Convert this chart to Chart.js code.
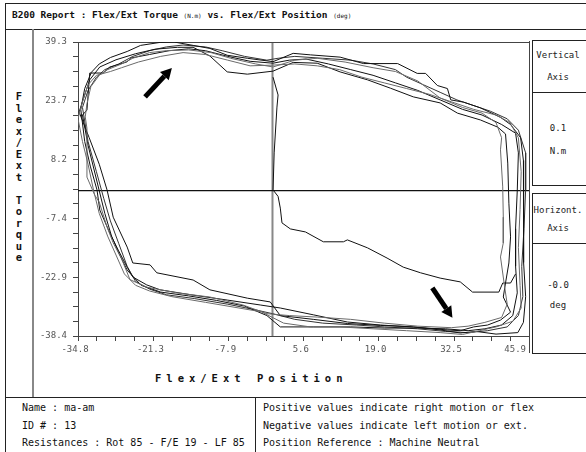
<!DOCTYPE html>
<html>
<head>
<meta charset="utf-8">
<script src="https://cdn.jsdelivr.net/npm/chart.js@4.4.1/dist/chart.umd.min.js"></script>
<style>
body{margin:0;background:#fff;width:586px;height:452px;overflow:hidden;position:relative;font-family:'DejaVu Sans Mono',monospace;color:#111}
.ln{position:absolute;background:#222}
.t{position:absolute;white-space:pre;line-height:1}
.box{position:absolute;border:1px solid #222;box-sizing:border-box}
.bx{position:absolute;left:532px;width:52px;text-align:center;font-size:9px;color:#222;white-space:pre;line-height:1}
#myChart{position:absolute;left:0;top:0}
</style>
</head>
<body>
<div class="ln" style="left:5px;top:3px;width:600px;height:1px"></div>
<div class="ln" style="left:5px;top:3px;width:1px;height:460px"></div>
<div class="ln" style="left:5px;top:29px;width:600px;height:1px"></div>
<div class="ln" style="left:32px;top:29px;width:2px;height:368px;background:#888"></div>
<div class="ln" style="left:5px;top:397px;width:600px;height:1px"></div>
<div class="ln" style="left:255px;top:397px;width:1px;height:60px"></div>
<div class="ln" style="left:529px;top:41px;width:1px;height:312px;background:#444"></div>

<div class="t" style="left:12px;top:10px;font-size:9.5px;font-weight:bold">B200 Report : Flex/Ext Torque <span style="font-size:6px;font-weight:normal">(N.m)</span> vs. Flex/Ext Position <span style="font-size:6px;font-weight:normal">(deg)</span></div>

<div class="t" style="left:13px;top:91px;width:12px;text-align:center;font-size:10.5px;font-weight:bold;line-height:11.5px">F
l
e
x
/
E
x
t
 
T
o
r
q
u
e</div>

<div class="t" style="left:155px;top:373px;font-size:10.5px;font-weight:bold;letter-spacing:5px">Flex/Ext Position</div>

<div class="box" style="left:532px;top:40px;width:70px;height:146px"></div>
<div class="ln" style="left:532px;top:92px;width:60px;height:1px"></div>
<div class="box" style="left:532px;top:193px;width:70px;height:161px"></div>
<div class="ln" style="left:532px;top:243px;width:60px;height:1px"></div>
<div class="bx" style="top:51px">Vertical</div>
<div class="bx" style="top:73px">Axis</div>
<div class="bx" style="top:124px">0.1</div>
<div class="bx" style="top:147px">N.m</div>
<div class="bx" style="top:206px">Horizont.</div>
<div class="bx" style="top:224px">Axis</div>
<div class="bx" style="top:281px">-0.0</div>
<div class="bx" style="top:301px">deg</div>

<div class="t" style="left:22px;top:403px;font-size:10px">Name : ma-am</div>
<div class="t" style="left:22px;top:421px;font-size:10px">ID # : 13</div>
<div class="t" style="left:22px;top:438px;font-size:10px">Resistances : Rot 85 - F/E 19 - LF 85</div>
<div class="t" style="left:263px;top:403px;font-size:10px">Positive values indicate right motion or flex</div>
<div class="t" style="left:263px;top:421px;font-size:10px">Negative values indicate left motion or ext.</div>
<div class="t" style="left:263px;top:438px;font-size:10px">Position Reference : Machine Neutral</div>

<canvas id="myChart" width="586" height="452"></canvas>
<script>
// axis tick labels
const xLabels = [-34.8, -21.3, -7.9, 5.6, 19.0, 32.5, 45.9];
const yLabels = [-38.4, -22.9, -7.4, 8.2, 23.7, 39.3];

// torque / position loops (deg, N.m)
const loop1 = [[-34.3,21.5],[-33.6,27.0],[-32.4,31.3],[-31.0,33.5],[-29.0,35.2],[-26.0,36.8],[-23.6,38.4],[-20.1,39.2],[-17.6,39.3],[-14.2,38.4],[-11.2,37.6],[-8.1,35.8],[-4.5,35.0],[0.1,34.1],[3.7,36.3],[6.8,35.9],[12.1,35.3],[16.3,33.6],[22.4,33.6],[25.9,31.0],[27.4,31.0],[29.5,27.8],[31.3,27.0],[31.9,24.0],[34.2,23.4],[37.2,21.9],[40.8,19.4],[42.6,17.5],[44.4,14.0],[44.9,8.0],[45.0,0.0],[44.9,-10.0],[44.9,-19.0],[45.3,-28.0],[44.9,-34.8],[43.9,-37.5],[40.0,-37.9],[36.5,-37.2],[33.6,-37.6],[30.0,-36.8],[25.2,-36.0],[19.3,-35.5],[13.4,-34.7],[7.3,-32.8],[1.4,-31.0],[-2.2,-30.2],[-8.1,-28.9],[-14.2,-27.6],[-20.1,-26.2],[-22.5,-24.9],[-25.0,-22.8],[-26.0,-20.2],[-27.6,-15.7],[-29.1,-11.2],[-30.9,-5.1],[-31.4,0.2],[-32.6,6.5],[-33.6,13.0],[-34.3,21.5]];
const loop2 = [[-34.6,20.8],[-33.9,24.0],[-32.7,29.3],[-30.9,32.7],[-28.0,34.6],[-24.5,36.2],[-21.0,37.4],[-17.0,37.9],[-14.2,37.9],[-11.2,35.6],[-8.1,31.4],[-4.5,30.8],[0.1,31.6],[3.7,33.9],[8.0,33.7],[12.1,31.4],[17.0,29.3],[21.1,27.1],[25.2,24.8],[30.0,23.2],[33.1,20.5],[37.2,18.7],[40.3,16.8],[41.7,15.0],[42.1,7.3],[42.3,-3.3],[42.6,-12.2],[42.3,-19.1],[41.7,-24.4],[41.3,-28.1],[42.6,-32.1],[40.8,-34.2],[38.5,-35.5],[36.0,-36.0],[33.6,-37.0],[31.3,-36.8],[25.2,-36.0],[19.3,-35.6],[13.4,-35.1],[7.3,-34.0],[1.4,-33.0],[-0.4,-29.4],[-4.5,-28.4],[-11.2,-26.2],[-14.2,-23.6],[-20.7,-21.7],[-21.9,-19.6],[-25.0,-19.1],[-26.0,-14.9],[-28.5,-7.0],[-29.6,0.2],[-31.0,7.0],[-32.8,14.0],[-34.6,20.8]];
const loop3 = [[-33.5,19.5],[-33.2,23.0],[-32.5,27.5],[-31.0,30.5],[-29.5,32.0],[-27.0,33.5],[-25.0,35.0],[-22.0,36.5],[-19.0,37.0],[-15.0,37.2],[-11.0,36.5],[-7.5,35.0],[-3.0,33.5],[0.1,32.7],[4.0,34.5],[8.0,35.0],[13.0,34.0],[18.0,32.5],[22.0,31.5],[26.0,29.0],[30.0,24.5],[34.0,22.0],[37.5,20.5],[40.0,18.0],[41.0,14.0],[40.8,10.8],[41.2,1.0],[41.3,-7.0],[41.3,-13.8],[40.8,-17.5],[41.5,-25.0],[42.0,-30.0],[41.0,-33.5],[38.0,-34.8],[35.0,-35.8],[32.0,-36.2],[26.0,-35.8],[20.0,-35.0],[14.0,-34.0],[8.0,-33.4],[3.0,-33.0],[-1.0,-32.5],[-5.3,-30.2],[-11.2,-28.1],[-17.1,-27.0],[-22.5,-25.5],[-25.5,-23.5],[-27.0,-18.0],[-28.5,-13.8],[-29.6,-9.6],[-31.0,-3.0],[-31.8,-1.2],[-33.2,3.6],[-33.2,16.5],[-33.5,19.5]];
const loop4 = [[-34.0,20.0],[-33.2,21.3],[-32.7,31.1],[-30.3,31.1],[-29.1,32.7],[-26.1,34.0],[-25.2,35.1],[-22.0,36.0],[-18.5,37.0],[-15.0,37.5],[-12.0,37.0],[-8.0,35.5],[-4.0,34.2],[0.1,33.7],[3.0,34.5],[6.0,34.8],[10.0,33.5],[14.0,32.0],[18.0,30.5],[22.0,28.5],[26.0,26.5],[30.0,24.0],[34.0,21.5],[37.5,20.0],[41.0,17.5],[43.5,15.2],[44.0,10.0],[43.8,0.0],[43.5,-10.0],[43.5,-20.0],[43.8,-27.0],[43.0,-33.0],[41.0,-35.5],[38.0,-36.5],[35.0,-37.0],[31.0,-36.5],[26.0,-36.3],[20.0,-36.3],[14.0,-36.0],[7.3,-36.0],[1.4,-36.0],[-1.0,-33.0],[-5.0,-30.5],[-10.0,-29.0],[-15.0,-27.8],[-20.0,-26.8],[-23.5,-25.0],[-26.0,-21.0],[-27.5,-16.5],[-28.8,-12.0],[-30.0,-6.0],[-31.0,0.0],[-32.0,6.0],[-33.0,12.0],[-34.0,20.0]];
const loop5 = [[-34.8,19.0],[-34.0,23.5],[-33.0,28.0],[-31.5,30.5],[-29.0,31.5],[-27.0,32.5],[-24.0,34.0],[-20.0,35.5],[-16.0,36.5],[-12.0,36.0],[-8.0,34.5],[-4.0,33.0],[0.1,33.2],[4.0,33.5],[8.0,33.0],[12.0,32.0],[16.0,30.0],[20.0,28.5],[24.0,27.0],[28.0,25.5],[32.0,23.5],[36.0,21.5],[40.0,20.0],[42.5,18.0],[44.0,14.0],[44.5,5.0],[44.3,-5.0],[44.0,-15.0],[44.3,-25.0],[44.5,-31.0],[43.0,-34.5],[40.0,-36.0],[37.0,-37.0],[34.0,-38.0],[30.0,-37.5],[24.0,-37.0],[18.0,-36.5],[12.0,-36.0],[6.8,-36.0],[2.0,-35.0],[-2.0,-32.0],[-6.0,-31.0],[-12.0,-29.5],[-18.0,-28.0],[-22.0,-26.5],[-24.5,-25.0],[-26.5,-22.0],[-28.0,-17.0],[-29.5,-12.0],[-31.0,-6.0],[-32.0,0.0],[-33.0,7.0],[-34.0,13.0],[-34.8,19.0]];
const loop6 = [[-34.0,22.0],[-33.0,26.5],[-31.5,30.0],[-30.0,32.0],[-27.5,33.5],[-25.0,35.5],[-22.0,37.0],[-19.0,38.0],[-16.0,38.5],[-12.0,38.0],[-9.0,37.0],[-5.0,35.5],[-1.0,34.5],[1.0,35.0],[4.0,35.5],[9.0,35.0],[14.0,34.5],[18.0,33.5],[22.0,32.0],[24.0,30.0],[27.0,28.0],[30.0,26.0],[33.0,24.0],[36.0,22.5],[39.0,21.0],[42.0,19.0],[44.0,16.0],[45.3,10.0],[45.3,0.2],[45.0,-10.0],[44.6,-20.0],[44.8,-28.0],[44.0,-33.0],[42.0,-36.0],[38.5,-37.0],[35.0,-37.5],[31.0,-37.2],[26.0,-36.5],[20.0,-36.0],[15.0,-35.5],[9.0,-35.0],[4.0,-34.0],[0.0,-32.5],[-3.0,-31.5],[-8.0,-30.0],[-14.0,-28.5],[-19.0,-27.5],[-22.0,-26.0],[-24.5,-24.0],[-26.0,-20.0],[-27.5,-14.0],[-29.0,-8.0],[-30.2,-2.0],[-31.5,5.0],[-33.0,13.0],[-34.0,22.0]];
// first repetition, starting near neutral
const startTrace = [[0.1,30.0],[1.0,25.3],[0.8,22.1],[0.3,10.0],[0.1,0.2],[1.0,-1.5],[1.4,-4.6],[1.7,-8.5],[3.2,-10.1],[5.9,-10.9],[9.1,-13.5],[12.7,-13.5],[13.4,-13.0],[17.0,-15.1],[20.5,-17.8],[23.4,-20.2],[26.5,-21.7],[30.0,-23.1],[33.6,-24.1],[35.8,-26.8],[40.5,-26.8],[41.2,-24.4],[42.6,-24.4],[43.5,-22.0]];

// arrows: [tail, head]
const arrowTop = [[-22.8, 24.8], [-18.0, 32.4]];
const arrowBottom = [[28.6, -25.7], [32.2, -33.6]];

function pts(a) { return a.map(p => ({x: p[0], y: p[1]})); }

function minorTicks(labels) {
    var t = [];
    for (var i = 0; i < labels.length; i++) {
        t.push({value: labels[i]});
        if (i < labels.length - 1) {
            var step = (labels[i + 1] - labels[i]) / 4;
            for (var k = 1; k < 4; k++) t.push({value: labels[i] + step * k});
        }
    }
    return t;
}

const framePlugin = {
    id: 'frame',
    beforeDatasetsDraw(chart) {
        const c = chart.ctx, a = chart.chartArea;
        const xs = chart.scales.x, ys = chart.scales.y;
        c.save();
        // zero lines
        c.strokeStyle = '#888';
        c.lineWidth = 2;
        c.beginPath();
        c.moveTo(xs.getPixelForValue(0), a.top);
        c.lineTo(xs.getPixelForValue(0), a.bottom);
        c.stroke();
        c.strokeStyle = '#111';
        c.lineWidth = 1.2;
        c.beginPath();
        c.moveTo(a.left, ys.getPixelForValue(0));
        c.lineTo(a.right, ys.getPixelForValue(0));
        c.stroke();
        // top and right of the frame
        c.strokeStyle = '#444';
        c.lineWidth = 1;
        c.beginPath();
        c.moveTo(a.left, a.top + 0.5);
        c.lineTo(a.right + 0.5, a.top + 0.5);
        c.lineTo(a.right + 0.5, a.bottom);
        c.stroke();
        c.restore();
    },
    afterDatasetsDraw(chart) {
        const c = chart.ctx;
        const xs = chart.scales.x, ys = chart.scales.y;
        [arrowTop, arrowBottom].forEach(function(ar) {
            var x1 = xs.getPixelForValue(ar[0][0]), y1 = ys.getPixelForValue(ar[0][1]);
            var x2 = xs.getPixelForValue(ar[1][0]), y2 = ys.getPixelForValue(ar[1][1]);
            var ang = Math.atan2(y2 - y1, x2 - x1);
            var hl = 11, hw = 6;
            var bx = x2 - hl * Math.cos(ang), by = y2 - hl * Math.sin(ang);
            c.save();
            c.strokeStyle = '#000';
            c.fillStyle = '#000';
            c.lineWidth = 5;
            c.beginPath();
            c.moveTo(x1, y1);
            c.lineTo(bx, by);
            c.stroke();
            c.beginPath();
            c.moveTo(x2, y2);
            c.lineTo(bx + hw * Math.sin(ang), by - hw * Math.cos(ang));
            c.lineTo(bx - hw * Math.sin(ang), by + hw * Math.cos(ang));
            c.closePath();
            c.fill();
            c.restore();
        });
    }
};

function ds(data, color) {
    return {
        data: pts(data),
        showLine: true,
        borderColor: color,
        borderWidth: 1,
        pointRadius: 0,
        tension: 0,
        fill: false
    };
}

var ctx = document.getElementById('myChart').getContext('2d');
var myChart = new Chart(ctx, {
    type: 'scatter',
    data: {
        datasets: [
            ds(loop3, '#6a6a6a'),
            ds(loop5, '#6a6a6a'),
            ds(loop1, '#111'),
            ds(loop2, '#111'),
            ds(loop4, '#111'),
            ds(loop6, '#333'),
            ds(startTrace, '#111')
        ]
    },
    options: {
        responsive: false,
        animation: false,
        events: [],
        plugins: {
            legend: { display: false },
            tooltip: { enabled: false }
        },
        layout: {
            padding: { top: 42, left: 33, right: 57, bottom: 86 }
        },
        scales: {
            x: {
                type: 'linear',
                min: xLabels[0],
                max: xLabels[xLabels.length - 1],
                afterBuildTicks: function(axis) { axis.ticks = minorTicks(xLabels); },
                afterFit: function(axis) { axis.height = 30; },
                ticks: {
                    autoSkip: false,
                    maxRotation: 0,
                    padding: 3,
                    labelOffset: -3,
                    color: '#555',
                    font: { family: 'DejaVu Sans Mono', size: 9 },
                    callback: function(v, i) {
                        if (i % 4 !== 0) return '';
                        var s = xLabels[i / 4].toFixed(1);
                        return i / 4 === xLabels.length - 1 ? s + '    ' : s;
                    }
                },
                grid: { drawOnChartArea: false, drawTicks: true, tickLength: 5, color: '#444' },
                border: { display: true, color: '#444', width: 1 }
            },
            y: {
                type: 'linear',
                min: yLabels[0],
                max: yLabels[yLabels.length - 1],
                afterBuildTicks: function(axis) { axis.ticks = minorTicks(yLabels); },
                afterFit: function(axis) { axis.width = 45; },
                ticks: {
                    autoSkip: false,
                    padding: 6,
                    color: '#555',
                    font: { family: 'DejaVu Sans Mono', size: 9 },
                    callback: function(v, i) {
                        return i % 4 === 0 ? yLabels[i / 4].toFixed(1) : '';
                    }
                },
                grid: { drawOnChartArea: false, drawTicks: true, tickLength: 5, color: '#444' },
                border: { display: true, color: '#444', width: 1 }
            }
        }
    },
    plugins: [framePlugin]
});
</script>
</body>
</html>
